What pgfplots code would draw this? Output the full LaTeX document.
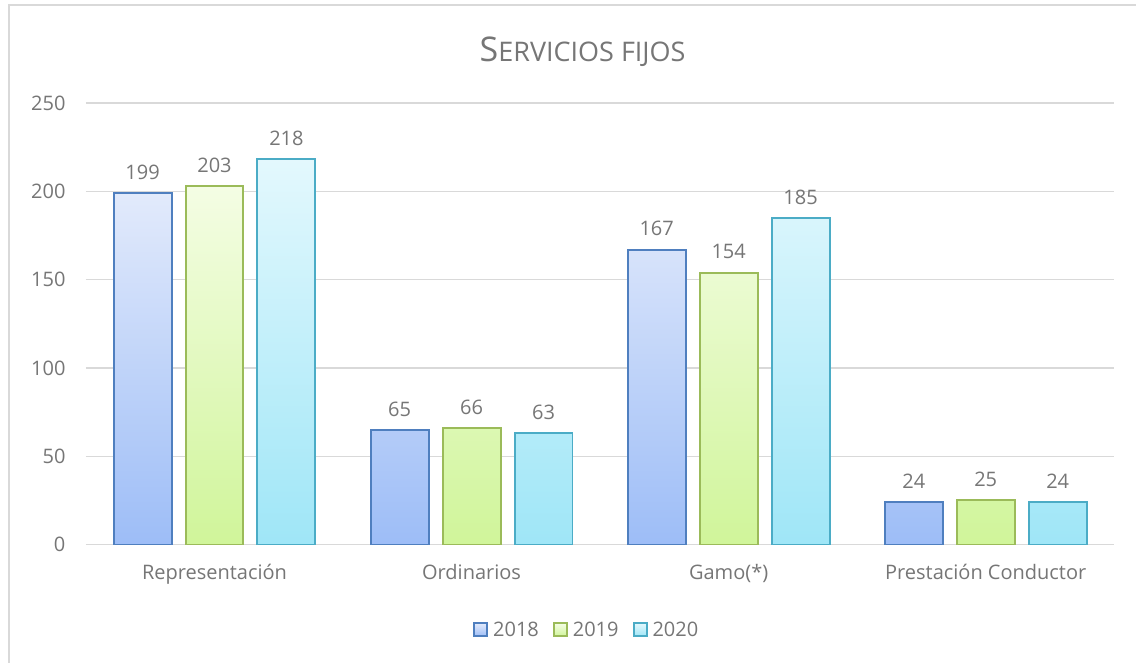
\documentclass[border=0pt]{standalone}
\usepackage{pgfplots}
\pgfplotsset{compat=1.18}
\usepackage{fontspec}
\setmainfont{Open Sans}
\definecolor{textgray}{HTML}{767676}
\definecolor{gridgray}{HTML}{D9D9D9}
\definecolor{bdblue}{HTML}{4F7FBF}
\definecolor{topblue}{HTML}{E2EAFB}
\definecolor{botblue}{HTML}{9DBDF7}
\definecolor{bdgreen}{HTML}{9BBB59}
\definecolor{topgreen}{HTML}{F4FDE4}
\definecolor{botgreen}{HTML}{D0F59A}
\definecolor{bdcyan}{HTML}{4BACC6}
\definecolor{topcyan}{HTML}{E3F8FD}
\definecolor{botcyan}{HTML}{9FE6F7}
\begin{document}
\begin{tikzpicture}
\path[fill=white] (0pt,0pt) rectangle (1137pt,663pt);
\draw[gridgray, line width=1.5pt] (9pt,0pt) -- (9pt,658pt) -- (1137pt,658pt);
\node[text=textgray, anchor=base] at (583pt,601pt) {\fontsize{34}{38}\selectfont S\fontsize{27}{30}\selectfont ERVICIOS FIJOS};
\begin{axis}[
  at={(86pt,118pt)}, anchor=south west,
  scale only axis, width=1029pt, height=442pt,
  ybar,
  xmin=-0.5, xmax=3.5, ymin=0, ymax=250,
  ytick={0,50,100,150,200,250},
  xtick={0,1,2,3},
  xticklabels={Representación,Ordinarios,Gamo(*),Prestación Conductor},
  axis line style={draw=none},
  major tick length=0pt,
  ymajorgrids,
  grid style={gridgray, line width=1.3pt},
  tick label style={text=textgray, font=\fontsize{20}{24}\selectfont},
  /pgf/number format/assume math mode=true,
  yticklabel style={xshift=-17pt},
  xticklabel style={text height=15pt, text depth=4pt, yshift=-16pt},
  bar width=58pt,
  nodes near coords,
  every node near coord/.append style={text=textgray, font=\fontsize{20}{24}\selectfont, yshift=10pt},
  legend style={at={(0.487,-0.193)}, anchor=center, draw=none, fill=none,
    legend columns=-1, font=\fontsize{20}{24}\selectfont, text=textgray,
    /tikz/every odd column/.append style={column sep=3pt},
    /tikz/every even column/.append style={column sep=12pt}},
  every axis plot post/.append style={legend image code/.code={\draw[##1, line width=1.8pt] (0pt,-6.5pt) rectangle (13pt,6.5pt);}},
]
\addplot[bar shift=-72pt, draw=none, top color=topblue, bottom color=botblue, postaction={draw=bdblue, line width=2pt}]
  coordinates {(0,199) (1,65) (2,167) (3,24)};
\addplot[bar shift=0pt, draw=none, top color=topgreen, bottom color=botgreen, postaction={draw=bdgreen, line width=2pt}]
  coordinates {(0,203) (1,66) (2,154) (3,25)};
\addplot[bar shift=72pt, draw=none, top color=topcyan, bottom color=botcyan, postaction={draw=bdcyan, line width=2pt}]
  coordinates {(0,218) (1,63) (2,185) (3,24)};
\legend{2018,2019,2020}
\end{axis}
\end{tikzpicture}
\end{document}
